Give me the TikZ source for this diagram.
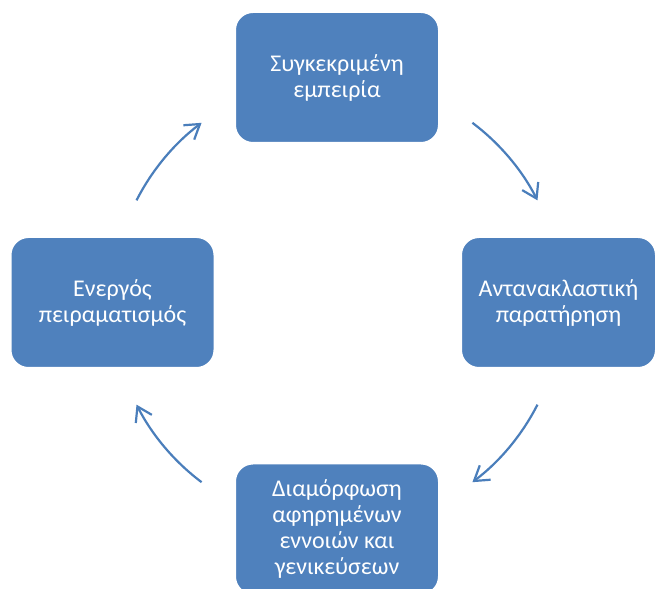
\documentclass[tikz,border=0pt]{standalone}
\usepackage{fontspec}
\setmainfont{Carlito}
\usetikzlibrary{arrows.meta}
\definecolor{cycblue}{HTML}{4F81BD}
\definecolor{arcblue}{HTML}{4A7EBB}

\begin{document}
\begin{tikzpicture}[x=1pt, y=1pt,
  stage/.style={draw=white, line width=2pt, fill=cycblue, rounded corners=18pt,
    minimum width=204pt, minimum height=131pt, text=white, align=center,
    font=\fontsize{24}{26}\selectfont},
  cyc/.style={draw=arcblue, line width=2.2pt, -{Straight Barb[length=14pt, width=18pt]}}]
  \clip (0,0) rectangle (657,589);
  \fill[white] (0,0) rectangle (657,589);

  % Centre of the cycle; the stages sit on its circle.
  \coordinate (hub) at (337,286.5);

  % The four stages.
  \node[stage] (expo) at (337,511.5) {Συγκεκριμένη\\εμπειρία};
  \node[stage, minimum width=195pt] (reflect) at (558.5,286.5) {Αντανακλαστική\\παρατήρηση};
  \node[stage] (concept) at (337,60) {Διαμόρφωση\\αφηρημένων\\εννοιών και\\γενικεύσεων};
  \node[stage] (experiment) at (112.5,286.5) {Ενεργός\\πειραματισμός};

  % Arcs between the stages, clockwise.
  \draw[cyc] ([shift={(53:225pt)}]hub) arc[start angle=53, end angle=27, radius=225pt];
  \draw[cyc] ([shift={(-27:225pt)}]hub) arc[start angle=-27, end angle=-53, radius=225pt];
  \draw[cyc] ([shift={(233:225pt)}]hub) arc[start angle=233, end angle=207, radius=225pt];
  \draw[cyc] ([shift={(153:225pt)}]hub) arc[start angle=153, end angle=127, radius=225pt];
\end{tikzpicture}
\end{document}
